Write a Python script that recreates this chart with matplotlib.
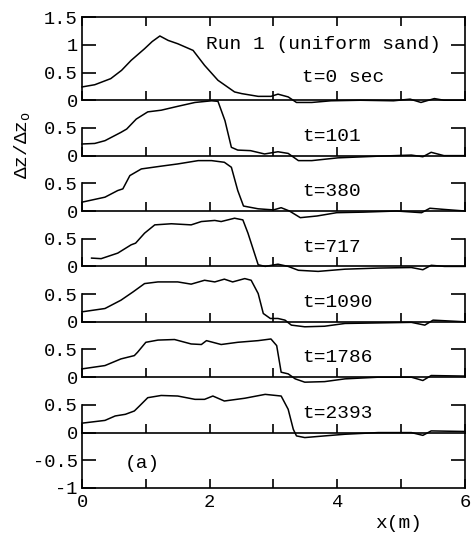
import matplotlib
matplotlib.use("Agg")
import matplotlib.pyplot as plt
from matplotlib.ticker import FixedLocator, FixedFormatter

plt.rcParams['font.family'] = ['Liberation Mono', 'DejaVu Sans Mono']
plt.rcParams['mathtext.fontset'] = 'custom'
plt.rcParams['mathtext.rm'] = 'Liberation Mono'
plt.rcParams['mathtext.it'] = 'Liberation Mono'

# ---- data ----
labels = ["t=0 sec", "t=101", "t=380", "t=717", "t=1090", "t=1786", "t=2393"]

x_t0 = [0, 0.2, 0.45, 0.62, 0.77, 0.98, 1.1, 1.22, 1.35, 1.5, 1.74, 1.92, 2.13, 2.39, 2.5,
        2.76, 2.96, 3.07, 3.23, 3.36, 3.6, 3.9, 4.36, 4.88, 5.14, 5.31, 5.52, 5.67, 6.0]
dz_t0 = [0.24, 0.28, 0.39, 0.54, 0.72, 0.93, 1.06, 1.16, 1.08, 1.02, 0.90, 0.63, 0.36, 0.15, 0.12,
         0.07, 0.07, 0.11, 0.06, -0.04, -0.04, -0.01, 0.0, -0.01, 0.02, -0.04, 0.03, 0.0, 0.0]

x_t101 = [0, 0.2, 0.36, 0.61, 0.7, 0.85, 1.03, 1.24, 1.5, 1.77, 2.03, 2.13, 2.24, 2.34, 2.44,
          2.64, 2.86, 3.07, 3.23, 3.39, 3.6, 4.01, 4.64, 5.16, 5.34, 5.47, 5.67, 6.0]
dz_t101 = [0.21, 0.22, 0.27, 0.42, 0.48, 0.66, 0.79, 0.82, 0.89, 0.96, 0.99, 0.98, 0.63, 0.15, 0.10,
           0.09, 0.03, 0.07, 0.04, -0.09, -0.09, -0.04, -0.01, 0.01, -0.02, 0.06, 0.0, 0.0]

x_t380 = [0, 0.36, 0.56, 0.64, 0.75, 0.93, 1.24, 1.5, 1.82, 2.03, 2.23, 2.34, 2.44, 2.53, 2.76,
          3.0, 3.12, 3.25, 3.42, 3.68, 3.99, 4.41, 4.93, 5.32, 5.45, 5.66, 6.0]
dz_t380 = [0.16, 0.25, 0.37, 0.40, 0.64, 0.76, 0.81, 0.85, 0.91, 0.91, 0.88, 0.79, 0.37, 0.09, 0.04,
           0.02, 0.06, 0.0, -0.12, -0.09, -0.03, -0.02, 0.0, -0.03, 0.05, 0.03, 0.0]

x_t717 = [0.15, 0.3, 0.56, 0.77, 0.84, 0.98, 1.14, 1.4, 1.71, 1.87, 2.08, 2.18, 2.39, 2.52, 2.60,
          2.76, 2.87, 3.07, 3.23, 3.39, 3.7, 4.12, 4.64, 5.16, 5.34, 5.47, 5.68, 6.0]
dz_t717 = [0.15, 0.14, 0.24, 0.39, 0.42, 0.60, 0.75, 0.77, 0.75, 0.81, 0.83, 0.81, 0.87, 0.84, 0.60,
           0.03, 0.0, 0.04, 0.0, -0.07, -0.09, -0.05, -0.03, -0.02, -0.06, 0.02, 0.0, 0.0]

x_t1090 = [0, 0.36, 0.61, 0.80, 0.98, 1.19, 1.5, 1.71, 1.92, 2.08, 2.23, 2.36, 2.55, 2.65, 2.76,
           2.84, 2.95, 3.07, 3.18, 3.28, 3.49, 3.8, 4.12, 4.64, 5.16, 5.37, 5.5, 6.0]
dz_t1090 = [0.18, 0.24, 0.39, 0.54, 0.69, 0.72, 0.72, 0.68, 0.75, 0.72, 0.77, 0.72, 0.78, 0.75, 0.51,
            0.15, 0.06, 0.06, 0.03, -0.06, -0.09, -0.08, -0.03, -0.02, -0.01, -0.06, 0.03, 0.0]

x_t1786 = [0, 0.36, 0.61, 0.82, 0.87, 1.0, 1.19, 1.45, 1.71, 1.87, 1.95, 2.18, 2.44, 2.76, 2.96,
           3.05, 3.12, 3.23, 3.34, 3.49, 3.8, 4.12, 4.64, 5.16, 5.34, 5.47, 6.0]
dz_t1786 = [0.15, 0.21, 0.33, 0.39, 0.45, 0.63, 0.67, 0.68, 0.60, 0.59, 0.66, 0.59, 0.63, 0.66, 0.69,
            0.57, 0.09, 0.06, -0.03, -0.09, -0.08, -0.03, 0.0, 0.0, -0.06, 0.03, 0.02]

x_t2393 = [0, 0.36, 0.52, 0.68, 0.82, 0.9, 1.03, 1.24, 1.5, 1.77, 1.92, 2.05, 2.23, 2.55, 2.87,
           3.12, 3.23, 3.31, 3.36, 3.49, 3.8, 4.12, 4.64, 5.16, 5.34, 5.47, 6.0]
dz_t2393 = [0.17, 0.22, 0.30, 0.33, 0.39, 0.48, 0.63, 0.67, 0.66, 0.60, 0.60, 0.66, 0.57, 0.62, 0.69,
            0.66, 0.42, 0.06, -0.06, -0.09, -0.06, -0.03, 0.0, 0.0, -0.05, 0.03, 0.02]

xs = [x_t0, x_t101, x_t380, x_t717, x_t1090, x_t1786, x_t2393]
ys = [dz_t0, dz_t101, dz_t380, dz_t717, dz_t1090, dz_t1786, dz_t2393]

xticks = [0, 1, 2, 3, 4, 5, 6]
xticklabels = ['0', '', '2', '', '4', '', '6']

FS = 13.5
LW_SP = 1.2

fig = plt.figure(figsize=(4.74, 5.36), dpi=100)
gs = fig.add_gridspec(8, 1, height_ratios=[1.5, 1, 1, 1, 1, 1, 1, 1], hspace=0,
                      left=0.173, right=0.981, top=0.968, bottom=0.0896)
axes = [fig.add_subplot(gs[i, 0]) for i in range(8)]

def style(ax, left_major, left_labels, right_ticks, ylim):
    ax.set_facecolor('none')
    ax.set_xlim(0, 6)
    ax.set_ylim(*ylim)
    for sp in ax.spines.values():
        sp.set_linewidth(LW_SP)
    ax.set_xticks(xticks)
    ax.set_xticklabels([''] * len(xticks))
    ax.tick_params(axis='x', direction='in', length=6.5, width=LW_SP, top=False, bottom=True)
    ax.yaxis.set_major_locator(FixedLocator(left_major))
    ax.yaxis.set_major_formatter(FixedFormatter(left_labels))
    ax.tick_params(axis='y', which='major', direction='in', length=10, width=LW_SP,
                   left=True, right=False, labelsize=FS, pad=3)
    tw = ax.twinx()
    tw.set_ylim(*ylim)
    tw.patch.set_visible(False)
    for sp in tw.spines.values():
        sp.set_visible(False)
    tw.set_yticks(right_ticks)
    tw.tick_params(axis='y', direction='in', length=10, width=LW_SP,
                   left=False, right=True, labelright=False, labelleft=False)
    return tw

for i, ax in enumerate(axes[:7]):
    ax.plot(xs[i], ys[i], color='black', lw=1.1, clip_on=False, zorder=3)
    if i == 0:
        style(ax, [0, 0.5, 1, 1.5], ['0', '0.5', '1', '1.5'], [0.5, 1], (0, 1.5))
        ax.tick_params(axis='x', top=True)
        ax.text(1.94, 1.0, "Run 1 (uniform sand)", fontsize=FS + 0.5, va='center', ha='left')
        ax.text(3.45, 0.41, labels[i], fontsize=FS + 0.5, va='center', ha='left')
    else:
        style(ax, [0, 0.5], ['0', '0.5'], [0.5], (0, 1))
        ax.spines['top'].set_visible(False)
        ax.spines['left'].set_bounds(0, 0.5)
        ax.spines['right'].set_bounds(0, 0.5)
        ax.text(3.45, 0.35, labels[i], fontsize=FS + 0.5, va='center', ha='left')

axb = axes[7]
style(axb, [-1, -0.5], ['-1', '-0.5'], [-0.5], (-1, 0))
axb.spines['top'].set_visible(False)
axb.set_xticklabels(xticklabels)
axb.tick_params(axis='x', labelsize=FS, pad=4)
axb.text(0.67, -0.55, "(a)", fontsize=FS + 0.5, va='center', ha='left')

fig.text(0.046, 0.73, r'$\mathrm{\Delta z/\Delta z_o}$', rotation=90, fontsize=FS + 0.5,
         ha='center', va='center')
fig.text(0.84, 0.024, "x(m)", fontsize=FS + 0.5, ha='center', va='center')

fig.savefig("out.png", dpi=100)
